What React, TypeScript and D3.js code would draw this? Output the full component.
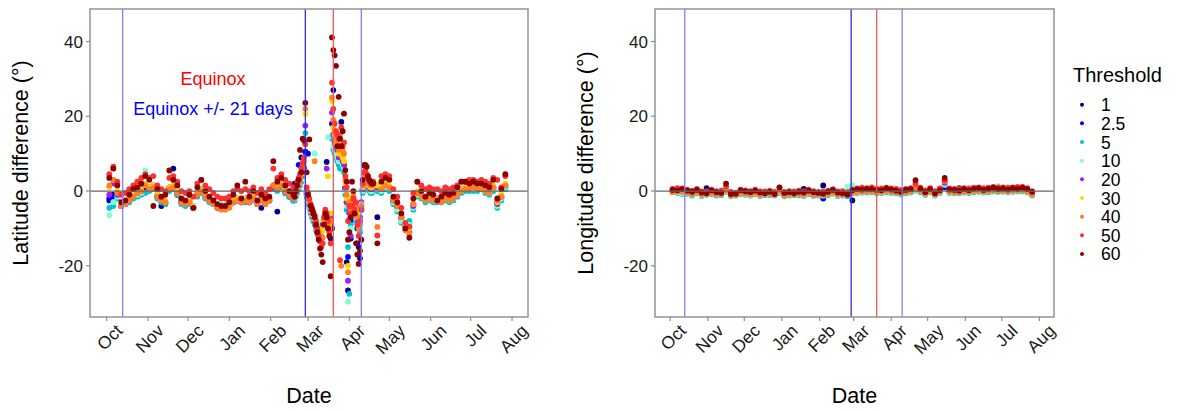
import React from "react";
import * as d3 from "d3";

const thresholds = ["1", "2.5", "5", "10", "20", "30", "40", "50", "60"];
const thresholdColours = ["#00008b", "#0000ff", "#00c5cd", "#7fffd4", "#a020f0", "#ffd700", "#ff7f24", "#ff3030", "#8b0000"];
const monthLabels = ["Oct", "Nov", "Dec", "Jan", "Feb", "Mar", "Apr", "May", "Jun", "Jul", "Aug"];
const yTicks = [-20, 0, 20, 40];
// days after 1 Oct: equinox -21, equinox -21 (spring), spring equinox, equinox +21
const refLineDays = [12, 149, 170, 191];
const refLineColours = ["#8080ff", "#3030d0", "#ff5555", "#8080ff"];

// sampling days (days after 1 Oct) for the latitude panel
const latDays = [...d3.range(2, 141, 3), ...d3.range(141, 201), ...d3.range(203, 300, 3)];

const lat1 = [
  -2.5, -1, -1.5, -4, -3.5, -2.5, -1.5, -0.5, 0, 1, 0.5, 1, -1.5, -4, -3, 0.5, 6, -1, -3, -3.5, -3, -4.5, -1, 0, -1.5, -2.5, -3.5, -4.5, -4.5, -4, -4, -3, -2.5, -3, -2.5, -3, -2, -3.5, -4.5, -3, -2.5, 1, -5.5, 1.5, -0.5, -1.5, -2.5,
  2, 0, 1, 2, 3, 9, 4.5, 5.5, 10.5, -1, -2.5, -4, -5.5, -6.5, -7.5, -8.5, -10, -11, -12, -10.5, -9.5, -9, -8, -6.5, 7.8, -9, -10.5, -12.7, -10, 27, 14, 12, 11, 10, 11, 18.5, 8, 7, 1, -19, -26.6, -8, -12.7, -5, -3, -5, -7, -10, -15, -18, -5, 0, 3, 3.5, 2.5, 1.5, 0.5, 0, 0, 0.5,
  -7, 0, 1, 0.5, -3, -4.5, -7.5, -9, -8.5, -4, -1, -1.5, -2.5, -2, -2.5, -2.5, -2.5, -2, -2.5, -2, -1, 0, 0.5, 0.5, 0.5, 0.5, 1, 0, -0.5, 0.5, -3.5, -2, 1,
];
const lat2_5 = [
  -2, -1.5, -1, -3.5, -3, -2, -1, 0, 0.5, 1.5, 1, 1.5, -1, -2, -3.5, 1, 1.5, -0.5, -2.5, -3, -2.5, -4, -0.5, 0.5, -1, -2, -3, -4, -4, -4, -3.5, -2.5, -2, -2.5, -2, -2.5, -1.5, -3, -2, -3, -2, 1.5, 1, 2, 0, -1, -2,
  -1, 0, 2, 7, 2, 3.5, 5, 6, 10.5, -0.5, 10, -3, -4.5, -5.5, -6.5, -7.5, -9, -10.5, -11.5, -12, -11, -10, -8, -6, -7, -8.5, -10, -9, 18, 14, 12, 11, 10, 9, 10, 9, 7, 6, 0.5, -3, -17.6, -6, -8, -4, -2.5, -4, -6, -14, -17, -8, -4, 0.5, 3.5, 4, 3, 2, 1, 0.5, 0.5, 1,
  1, 0.5, 1.5, 1, -2.5, -4, -7, -9, -9.5, -3.5, -0.5, -1, -2, -1.5, -2, -2, -2, -1.5, -2, -1.5, -0.5, 0.5, 1, 1, 1, 1, 1.5, 0.5, 0, 1, -3, -1.5, 1.5,
];
const lat5 = [
  -4.5, -4, -2, -4, -3.5, -3, -2, -1.5, -1, -0.5, 0, 0.5, -2, -3, -3.5, 0, 0.5, -1, -3.5, -4, -3.5, -4.5, -1.5, -0.5, -2, -3, -3.5, -4, -4, -4, -3.5, -2.5, -2.5, -3, -3, -2.5, -2.5, -3, -2.5, -3, -2.5, 0.5, 0, 1, -0.5, -1.5, -2.5,
  -2.5, -1.5, -0.5, 0.5, 1.5, 2.5, 4, 5, 15.5, -1.5, -3, -4.5, -6, -7, -8, -9, -10.5, -11.5, -10.5, -9.5, -9, -8.5, -7.5, -6.5, -8, -9, -8.5, -6.5, 14, 11, 10, 9, 8, 7, 6, 7.5, 7.5, 5, -1, -5, -15, -27.5, -9, -6, -3.5, -5, -8, -7, -10, -11, -3.5, -0.5, 2.5, 2.5, 2, 1, 0, -0.5, -0.5, 0,
  0, -0.5, 0.5, 0, -3.5, -5.5, -8.5, -9, -8, -5, -1.5, -2, -3, -2.5, -3, -3, -3, -2.5, -3, -2.5, -1.5, -0.5, 0, 0, 0, 0, 0.5, -0.5, -1, 0, -4.5, -2.5, 0.5,
];
const lat10 = [
  -6.5, -3, -1.5, -3.5, -3, -2.5, -1.5, -1, -0.5, 5.5, 0.5, 1, -1.5, -2.5, -3, 0.5, 1, -0.5, -3, -3.5, -3, -4, -1, 0, -1.5, -2.5, -3, -3.5, -3.5, -3.5, -3, -2.5, -2, -2.5, -2.5, -2.5, -2, -3, -2.5, -3, -2, 1, 0.5, 1.5, 0, -1, -2,
  -2, -1, 0, 1, 2, 3, 4.5, 5.5, 14, -1, -2.5, -4, -5.5, -6.5, -7.5, 10, -10, -11, -10, -9, -8.5, -8, -7, -6, -7.5, 14.4, -8, -6, 15, 12, 11, 10, 9, 8, 8, 9, 7, 6, 0, -4, -29.6, -7, -10, -5, -3, -4.5, -7, -6, -9, -10, -3, 0, 3, 3, 2.5, 1.5, 0.5, 0, 0, 0.5,
  0.5, 0, 1, 0.5, -3, -5, -8, -10.5, -9, -4.5, -1, -1.5, -2.5, -2, -2.5, -2.5, -2.5, -2, -2.5, -2, -1, 0, 0.5, 0.5, 0.5, 0.5, 1, 0, -0.5, 0.5, -4, -2, 1,
];
const lat20 = [
  -1, 2, -1, -4, -3.5, -2.5, -1.5, -0.5, 0, 1.5, 0.5, 1, -1.5, -2.5, -3, 0.5, 1, -0.5, -3, -3.5, -3, -4.5, -1, 0, -1.5, -2.5, -3, -4, -4.5, -4.5, -4, -3, -2.5, -3, -2.5, -3, -2, -3.5, -2.5, -3.5, -2.5, 1, 0.5, 1.5, 0, -1, -2,
  -1.5, -0.5, 0.5, 1.5, 2.5, 4, 5.5, 6.5, 17.5, -0.5, -2, -3.5, -5, -6, -7, -8, -9.5, -11, -12, -11, -10, -9, -8.5, -6.5, 6, -8, -9.5, -7, 21, 15, 13, 12, 11, 9, 12, 10, 8, 7, 1, -3, -24, -5, -12, -3, -2, -4, -6, -5, -8, -7, -3, 0.5, 3.5, 4, 3, 2, 1, 0.5, 0.5, 1,
  1, 0.5, 1.5, 1, -2.5, -4, -7, -9.5, -11, -4, -0.5, -1, -2, -1.5, -2, -2, -2, -1.5, -2, -1.5, -0.5, 0.5, 1, 1, 1, 1, 1.5, 0.5, 0, 1, -3.5, -1.5, 1.5,
];
const lat30 = [
  1, 3, 0, -3.5, -3, -2, -1, 0, 0.5, 2, 1, 1.5, -1, -2, -2.5, 1, 1.5, 0, -2.5, -3, -2.5, -4, -0.5, 0.5, -1, -2, -3, -4, -4.5, -4.5, -4, -2.5, -2, -2.5, -2, -2.5, -1.5, -3, -2, -3, -2, 1.5, 1, 2, 0.5, -0.5, -1.5,
  -1, 0, 1, 2, 3, 4.5, 6, 7, 20.6, 0, -1.5, -3, -4.5, -5.5, -6.5, -7.5, -9, -10.5, -11.5, -12.5, -11, -10, -8, -6, -7, 3.9, -9, -6, 24, 17, 15, 13, 12, 10, 14, 11, 9, 8, 2, -2, -20, -4, -6, -2, -1, -3.5, -5, -6, -9, -8, -3.5, 1, 4, 4.5, 3.5, 2.5, 1.5, 1, 1, 1.5,
  1.5, 1, 2, 1.5, -2, -3.5, -6.5, -9, -10, -3.5, 0, -0.5, -2, -1.5, -2, -2, -2, -1.5, -2, -1.5, -0.5, 0.5, 1, 1.5, 1, 1, 1.5, 0.5, 0.5, 1.5, -3, -1, 2,
];
const lat40 = [
  1.5, 3, -0.5, -4, -3.5, -2.5, -1.5, -0.5, 0, 1.5, 0.5, 1, -1.5, -2.5, -3, 0.5, 1, -0.5, -3, -3.5, -3, -4.5, -1, 0, -1.5, -2.5, -3.5, -4.5, -5, -5, -4.5, -3, -2.5, -3, -2.5, -3, -2, -3.5, -2.5, -3.5, -2.5, 1.5, 0.5, 1.5, 0, -1, -2,
  -0.5, 0.5, 1.5, 2.5, 3.5, 5, 6.5, 8, 22, 0.5, -1, -2.5, -4, -5, -6, 8, -8.5, -10.5, -11, -12, -13, -12.5, -7.5, -5.5, -6.5, -9, -10, -8, 25, 19, 16, 14, 13, 11, 15, -20, 11, 10, 3, -1, -21.7, -3, -5, -3, -1.5, -4, -6.5, -7, -10, -9, -4, 1.5, 4.5, 5, 4, 3, 2, 1.5, 1.5, 2,
  -9.6, 0.5, 1.5, 1, -2.5, -4, -7, -10.5, -11.5, -3.5, -0.5, -1.5, -2.5, -2, -2.5, -2.5, -3, -2, -2.5, -2, -1, 0, 0.5, 0.5, 1, 0.5, 0.5, 0, -0.5, 1, -2.5, -1.5, 1.5,
];
const lat50 = [
  4.5, 6.5, 2.5, -1, -0.5, 0.5, 1.5, 2.5, 3.5, 4.5, 3.5, 4, 1.5, 0.5, 0, 3.5, 4, 2.5, 0, -0.5, 0, -1.5, 2, 3, 1.5, 0.5, -0.5, -1.5, -2, -2, -1.5, 0, 0.5, 0, 0.5, 0, 1, -0.5, 0.5, -0.5, 0.5, 6, 3.5, 4.5, 3, 2, 1,
  0, 1, 2.5, 3.5, 4.5, 6, 7.5, 9, 12.5, 1, -0.5, -2, -3.5, -4.5, -5.5, -6.5, -8, -10, -12, -13.5, -15, -14, -7, -5, -6, -8, -11, -14, 29, 22, 18, 16, 15, 14, -18.5, 17, 12, 13, 4, 1, -8, -4, -6, -4, -2, -5, -3, -9, -12, -8, -5, 2, 5, 5.5, 4.5, 3.5, 2.5, 2, 2, 2.5,
  -11.9, 4, 4.5, 4, 0.5, -1.5, -4.5, -8.5, -9.5, -0.5, 2.5, 1.5, 0.5, 1, 0.5, 0.5, 0, 1, 0.5, 1, 1.5, 2.5, 2.5, 3, 3, 2.5, 3, 2.5, 2, 3.5, 3, 1, 4,
];
const lat60 = [
  3.5, 6, 1.5, -3, -2.5, -1, 0.5, 1, 2, 4, 3, -4, 0.5, -1.5, -1, 5.5, 3, 1.5, -2, -2.5, -1, -4.5, 1, 3, 0, -1.5, -2.5, -3.5, -4, -4, -3, -1, 1.5, -2, 2.5, -1.5, 0, -2.5, -1, -2, -1.5, 8, 2.5, 3.5, 1.5, 0, -1,
  -1.5, 0, 1.5, 3, 11, 5, 14, 13.5, 23.6, 5, -1, 13.8, -4, -5, -6, -7, -9, -11, -13, -15.4, -17, -19, -9, -6, -7, -10, -12, -22.8, 41.1, 37.7, 36.3, 33.5, 12, 25.2, 14, 12, 16, 20.7, 5.6, 2.5, -13, -11, -7, 2.5, 0, -6, -14, -17, -19.5, -16, -13, 3, 6.9, 7, 6.5, 4, 3, 2.5, 2, 2,
  -14, 2.5, 3.5, 3, -1.5, -3, -6, -10, -12.5, -2, 2.5, 0, -1.5, -0.5, -1, -2.5, -1.5, -0.5, -1, -0.5, 1, 2.5, 2.5, 2, 2.5, 2, 2, 1.5, 1, 3, -2, 0.5, 4.5,
];

// sampling days (days after 1 Oct) for the longitude panel
const lonDays = d3.range(2, 299, 4);

const lon1 = [
  0.1, -0.1, -0.4, -0.3, -0.8, -0.3, -1, 0.8, -0.5, -0.9,
  -0.8, 0, -1.1, -1, -0.5, -0.7, -0.9, -0.5, -1, -0.8,
  -0.8, -0.9, -0.2, -1.1, -0.9, -0.8, -0.8, 0.6, -0.5, -1,
  -0.9, 1.5, -0.8, -0.4, -1, -0.9, -1.1, -2.5, 0, -0.1,
  -0.1, 0, -0.3, -0.2, 0, -0.2, -0.3, -0.6, -0.3, -0.1,
  0.4, 0, -0.7, -0.1, -0.9, -0.2, 1.2, -0.2, -0.3, 0.8,
  -0.1, -0.2, 0, 0.1, -0.1, 0, 0.2, 0.1, 0.1, 0,
  0.1, 0.2, 0.2, -0.1, -0.9,
];
const lon2_5 = [
  0.2, 0, -0.3, -0.2, -0.7, -0.2, -0.9, -0.7, -0.4, -0.8,
  -0.7, 0.1, -1, -0.9, -0.4, -0.6, -0.8, -0.4, -0.9, -0.7,
  -0.7, -0.8, -0.1, -1, -0.8, -0.7, -0.7, -0.9, -0.4, -1.2,
  -0.8, -2, -0.7, -0.3, -0.9, -0.8, -1, -0.4, 0, 0,
  0, 0.1, -0.2, -0.1, 0.1, -0.1, -0.2, -0.5, -0.2, 0,
  0.5, 0.1, -0.6, 0, -0.8, -0.1, 1, -0.1, -0.2, -0.2,
  0, -0.1, 0.1, 0.2, 0, 0.1, 0.3, 0.2, 0.2, 0.1,
  0.2, 0.3, 0.3, 0, -0.8,
];
const lon5 = [
  -0.2, -0.5, -0.8, -0.7, -1.2, -0.6, -1.3, -1, -0.8, -1.2,
  -1.1, -0.2, -1.3, -1.2, -0.8, -1, -1.2, -0.8, -1.3, -1.1,
  -1.1, -1.2, -0.5, -1.4, -1.2, -1.1, -1.1, -1.3, -0.8, -1.2,
  -1.2, -1.3, -1.1, -0.7, -1.3, -1.2, -1.4, -0.6, -0.5, -0.4,
  -0.4, -0.3, -0.6, -0.5, -0.3, -0.5, -0.6, -0.9, -0.6, -0.4,
  0.1, -0.3, -1, -0.4, -1.2, -0.5, 1.7, -0.5, -0.6, -0.6,
  -0.4, -0.5, -0.3, -0.2, -0.4, -0.3, -0.1, -0.2, -0.2, -0.3,
  -0.2, -0.1, -0.1, -0.4, -1.2,
];
const lon10 = [
  0.4, -0.3, -0.6, -0.5, -0.9, -0.4, -1.1, -0.8, -0.6, -1,
  -0.9, 0, -1.1, -1, -0.6, -0.8, -1, -0.6, -1.1, -0.9,
  -0.9, -1, -0.3, -1.2, -1, -0.9, -0.9, -1.1, -0.6, -1,
  -1, -1.1, -0.9, -0.5, -1.1, -1, 1.2, 1.5, -0.3, -0.2,
  -0.2, -0.1, -0.4, -0.3, -0.1, -0.3, -0.4, -0.7, -0.4, -0.2,
  0.3, -0.1, -0.8, -0.2, -1, -0.3, 1.7, -0.3, -0.4, -0.4,
  -0.2, -0.3, -0.1, 0, -0.2, -0.1, 0.1, 1.4, 0, -0.1,
  0, 0.1, 0.1, -0.2, -1,
];
const lon20 = [
  -0.1, 0.1, 0, -0.3, -0.6, -0.1, -0.8, -0.6, -0.3, -0.7,
  -0.6, 0.2, -0.9, -0.8, -0.3, -0.5, -0.7, -0.3, -0.8, -0.6,
  -0.6, -0.7, 0, -0.9, -0.7, -0.6, -0.6, -0.8, -0.3, -0.7,
  -0.7, -0.8, -0.6, -0.2, -0.8, -0.7, -0.9, -0.3, 0, 0.1,
  0.1, 0.2, -0.1, 0, 0.2, 0, -0.1, -0.4, -0.1, 0.1,
  0.6, 0.2, -0.5, 0.1, -0.7, 0, 2.2, 0, -0.1, -0.1,
  0.1, 0, 0.2, 0.3, 0.1, 0.2, 0.4, 0.3, 0.3, 0.2,
  0.3, 0.4, 0.4, 0.1, -0.7,
];
const lon30 = [
  0, 0.2, 0.1, -0.2, -0.5, 0, -0.7, -0.5, -0.2, -0.6,
  -0.5, 0.3, -0.8, -0.7, -0.2, -0.4, -0.6, -0.2, -0.7, -0.5,
  -0.5, -0.6, 0.1, -0.8, -0.6, -0.5, -0.5, -0.7, -0.2, -0.6,
  -0.6, -0.7, -0.5, -0.1, -0.7, -0.6, -0.8, -0.2, 0.1, 0.2,
  0.2, 0.3, 0, 0.1, 0.3, 0.1, 0, -0.3, 0, 0.2,
  0.8, 0.3, -0.4, 0.2, -0.6, 0.1, 2.6, 0.1, 0, 0,
  0.2, 0.1, 0.3, 0.4, 0.2, 0.3, 0.5, 0.4, 0.4, 0.3,
  0.4, 0.5, 0.5, 0.2, -0.6,
];
const lon40 = [
  -0.3, -0.1, -0.2, -0.5, -0.8, -0.3, -1, -0.8, -0.5, -0.9,
  -0.8, 0.1, -1.1, -1, -0.5, -0.7, -0.9, -0.5, -1, -0.8,
  -0.8, -0.9, -0.1, -1.1, -0.9, -0.8, -0.8, -1, -0.5, -0.9,
  -0.9, -1, -0.8, -0.4, -1, -0.9, -1, -0.5, -0.2, -0.1,
  -0.1, 0, -0.3, -0.2, 0, -0.2, -0.3, -0.6, -0.3, -0.1,
  0.6, 0, -0.7, -0.1, -0.9, -0.2, 2.6, -0.2, -0.3, -0.3,
  -0.1, -0.2, 0, 0.1, -0.1, 0, 0.2, 0.1, 0.1, 0,
  0.1, 0.2, 0.2, -0.1, -0.9,
];
const lon50 = [
  0.6, 0.8, 0.7, 0.4, 0.1, 0.6, -0.1, -0.1, 0.4, 0,
  0.1, 1.2, -0.2, -0.4, 0.4, 0.2, 0, 0.4, -0.1, -0.1,
  0.1, -0.2, 0.9, -0.2, 0, -0.1, 0.1, -0.1, 0.4, 0,
  -0.2, -0.1, 0.1, 0.5, -0.1, 0, -0.3, 0.4, 0.7, 0.9,
  0.8, 1, 0.6, 0.7, 0.9, 0.7, 0.6, 0.3, 0.6, 0.8,
  1.9, 0.9, 0.2, 0.8, 0, 0.7, 2.8, 0.7, 0.6, 0.6,
  0.8, 0.7, 0.9, 1, 0.8, 0.9, 1.1, 1, 1, 0.9,
  1, 1.1, 1.1, 0.8, 0,
];
const lon60 = [
  0.3, 0.2, 0.5, 0.1, -0.2, 0.3, -0.4, -0.6, 0.2, -0.3,
  -0.5, 2, -0.8, -0.7, 0.2, -0.1, -0.3, 0.1, -0.4, -0.6,
  -0.2, -0.8, 1, -0.5, -0.3, -0.6, -0.2, -0.4, 0.1, -0.3,
  -0.5, -0.7, -0.2, 0.3, -0.4, -0.6, -0.9, 0.2, 0.5, 0.4,
  0.6, 0.5, 0.3, 0.2, 0.7, 0.4, 0.1, -0.2, 0.3, 0.5,
  2.9, 0.6, -0.3, 0.5, -0.6, 0.2, 3.5, 0.4, 0.3, 0.1,
  0.5, 0.2, 0.6, 0.8, 0.3, 0.6, 0.9, 0.5, 0.7, 0.4,
  0.8, 0.6, 0.9, 0.5, -0.2,
];

const latSeries = [lat1, lat2_5, lat5, lat10, lat20, lat30, lat40, lat50, lat60];
const lonSeries = [lon1, lon2_5, lon5, lon10, lon20, lon30, lon40, lon50, lon60];

const FONT = "'Liberation Sans', Arial, Helvetica, sans-serif";
const TOP = 9;
const BOTTOM = 317;
const origin = Date.UTC(2018, 9, 1);
const dayToDate = (d: number) => new Date(origin + d * 864e5);

const y = d3.scaleLinear().domain([-33.7, 48.7]).range([BOTTOM, TOP]);

type PanelProps = {
  left: number;
  right: number;
  days: number[];
  series: number[][];
  yTitle: string;
  yTitleX: number;
  notes?: boolean;
};

function Panel({ left, right, days, series, yTitle, yTitleX, notes }: PanelProps) {
  const x = d3.scaleUtc().domain([dayToDate(-12.5), dayToDate(316)]).range([left, right]);
  const monthTicks = d3.utcMonth.range(dayToDate(0), dayToDate(305));

  return (
    <g>
      <rect x={left} y={TOP} width={right - left} height={BOTTOM - TOP} fill="#fff" />
      {series.map((vals, si) =>
        vals.map((v, i) =>
          days[i] === undefined ? null : (
            <circle key={si + "-" + i} cx={x(dayToDate(days[i]))} cy={y(v)} r={2.9} fill={thresholdColours[si]} />
          )
        )
      )}
      {refLineDays.map((d, i) => (
        <line key={"ref" + i} x1={x(dayToDate(d))} x2={x(dayToDate(d))} y1={TOP} y2={BOTTOM} stroke={refLineColours[i]} strokeWidth={1.3} />
      ))}
      <line x1={left} x2={right} y1={y(0)} y2={y(0)} stroke="#666" strokeWidth={1.2} />
      <rect x={left} y={TOP} width={right - left} height={BOTTOM - TOP} fill="none" stroke="#8c8c8c" strokeWidth={1.4} />

      {yTicks.map((t) => (
        <g key={"y" + t}>
          <line x1={left - 4} x2={left} y1={y(t)} y2={y(t)} stroke="#8c8c8c" strokeWidth={1.2} />
          <text x={left - 7} y={y(t)} dy="0.36em" textAnchor="end" fontSize={17} fill="#1a1a1a" fontFamily={FONT}>
            {t}
          </text>
        </g>
      ))}
      {monthTicks.map((m, i) => (
        <g key={"m" + i}>
          <line x1={x(m)} x2={x(m)} y1={BOTTOM} y2={BOTTOM + 4} stroke="#8c8c8c" strokeWidth={1.2} />
          <text
            transform={`translate(${x(m) + 8},${BOTTOM + 6}) rotate(-45)`}
            dy="0.72em"
            textAnchor="end"
            fontSize={17.5}
            fill="#1a1a1a"
            fontFamily={FONT}
          >
            {monthLabels[i]}
          </text>
        </g>
      ))}
      <text x={(left + right) / 2} y={403} textAnchor="middle" fontSize={21.5} fill="#000" fontFamily={FONT}>
        Date
      </text>
      <text transform={`translate(${yTitleX},${(TOP + BOTTOM) / 2}) rotate(-90)`} textAnchor="middle" fontSize={21.5} fill="#000" fontFamily={FONT}>
        {yTitle}
      </text>
      {notes && (
        <g fontFamily={FONT} fontSize={18} textAnchor="middle">
          <text x={213} y={85} fill="#ff0000">Equinox</text>
          <text x={213} y={115} fill="#0000ff">Equinox +/- 21 days</text>
        </g>
      )}
    </g>
  );
}

export default function App() {
  return (
    <svg width={1177} height={410} style={{ position: "absolute", left: 0, top: 0, background: "#fff" }}>
      <rect width={1177} height={410} fill="#fff" />
      <Panel left={90} right={528} days={latDays} series={latSeries} yTitle="Latitude difference (°)" yTitleX={28} notes />
      <Panel left={655} right={1054} days={lonDays} series={lonSeries} yTitle="Longitude difference (°)" yTitleX={593} />
      <g fontFamily={FONT}>
        <text x={1073} y={82} fontSize={20} fill="#000">Threshold</text>
        {thresholds.map((t, i) => (
          <g key={t}>
            <circle cx={1082} cy={104.7 + i * 18.66} r={2} fill={thresholdColours[i]} />
            <text x={1101} y={104.7 + i * 18.66 + 6.5} fontSize={17.5} fill="#000">
              {t}
            </text>
          </g>
        ))}
      </g>
    </svg>
  );
}
